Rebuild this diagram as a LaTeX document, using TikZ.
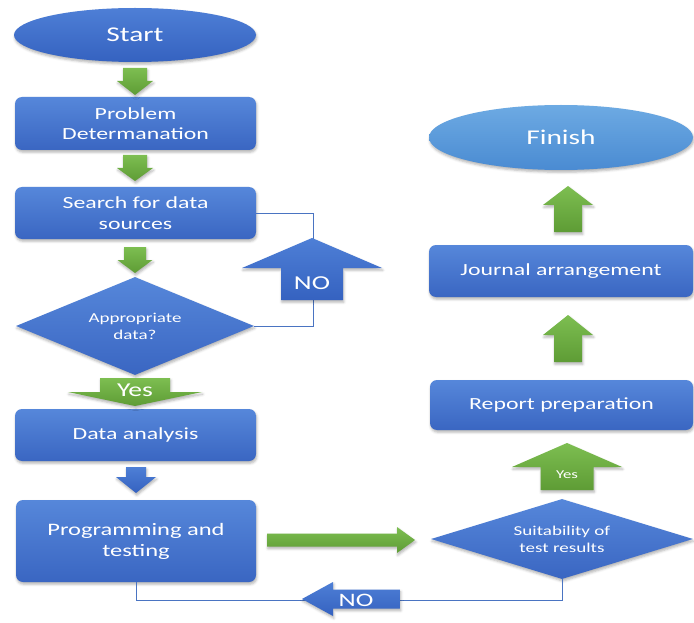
\documentclass[tikz,border=0pt]{standalone}
\usepackage{fontspec}
\setmainfont{Carlito}[FakeStretch=1.4]
\usetikzlibrary{shapes.geometric,shadows.blur}

\definecolor{boxtop}{HTML}{5687DA}
\definecolor{boxbot}{HTML}{3A66C2}
\definecolor{termtop}{HTML}{4E7FD6}
\definecolor{termbot}{HTML}{3562C0}
\definecolor{endtop}{HTML}{6DAAE3}
\definecolor{endbot}{HTML}{4A8BD2}
\definecolor{greentop}{HTML}{7DBE51}
\definecolor{greenbot}{HTML}{5E9C35}
\definecolor{linkblue}{HTML}{4A74C2}

\tikzset{
  softshadow/.style={blur shadow={shadow xshift=0.8pt, shadow yshift=-2.2pt,
      shadow blur radius=2.5pt, shadow opacity=30}},
  basebox/.style={draw=none, text=white, align=center, inner sep=0pt, softshadow},
  procbox/.style={basebox, rectangle, rounded corners=7pt,
      top color=boxtop, bottom color=boxbot,
      minimum width=241pt, minimum height=52pt,
      font=\fontsize{17}{20.5}\selectfont},
  terminal/.style={basebox, ellipse, top color=termtop, bottom color=termbot,
      font=\fontsize{21}{25}\selectfont},
  decision/.style={basebox, diamond, top color=boxtop, bottom color=boxbot,
      font=\fontsize{13.6}{17}\selectfont},
  link/.style={draw=linkblue, line width=0.9pt},
  greenarrow/.style={top color=greentop, bottom color=greenbot, draw=none, softshadow},
  bluearrow/.style={top color=termtop, bottom color=termbot, draw=none, softshadow},
  arrowlabel/.style={text=white, inner sep=0pt},
  % block arrows: tip at the pic origin; args shaft half width / head half width / length / head length / style
  pics/arrowdown/.style args={#1/#2/#3/#4/#5}{code={
    \path[#5] (0,0) -- (-#2,-#4) -- (-#1,-#4) -- (-#1,-#3) -- (#1,-#3) -- (#1,-#4) -- (#2,-#4) -- cycle;}},
  pics/arrowup/.style args={#1/#2/#3/#4/#5}{code={
    \path[#5] (0,0) -- (-#2,#4) -- (-#1,#4) -- (-#1,#3) -- (#1,#3) -- (#1,#4) -- (#2,#4) -- cycle;}},
  pics/arrowright/.style args={#1/#2/#3/#4/#5}{code={
    \path[#5] (0,0) -- (-#4,-#2) -- (-#4,-#1) -- (-#3,-#1) -- (-#3,#1) -- (-#4,#1) -- (-#4,#2) -- cycle;}},
  pics/arrowleft/.style args={#1/#2/#3/#4/#5}{code={
    \path[#5] (0,0) -- (#4,-#2) -- (#4,-#1) -- (#3,-#1) -- (#3,#1) -- (#4,#1) -- (#4,#2) -- cycle;}},
}

\begin{document}
\begin{tikzpicture}[x=1pt,y=-1pt]
\useasboundingbox (0,0) rectangle (694,623);

% left column
\node[terminal, minimum width=242pt, minimum height=54pt] (start) at (135,35) {Start};
\node[procbox, minimum height=53pt] (prob) at (135.5,123.5) {Problem\\Determanation};
\node[procbox] (search) at (135.5,213) {Search for data\\sources};
\node[decision, aspect=2.5, minimum width=238pt, minimum height=98pt] (check) at (135,326) {Appropriate\\data?};
\node[procbox] (analysis) at (135.5,435) {Data analysis};
\node[procbox, minimum width=240pt, minimum height=82pt, font=\fontsize{17.5}{21}\selectfont] (prog) at (136,541) {Programming and\\testing};

% right column
\node[decision, aspect=3.2, minimum width=262pt, minimum height=80pt] (suit) at (562,539) {Suitability of\\test results};
\node[procbox, minimum width=263pt, minimum height=50pt] (report) at (561.5,405) {Report preparation};
\node[procbox, minimum width=264pt, minimum height=52pt] (journal) at (561,271) {Journal arrangement};
\node[terminal, top color=endtop, bottom color=endbot, minimum width=264pt, minimum height=65pt] (finish) at (561,137.5) {Finish};

% thin loop-back lines (the block arrows are drawn over them)
\coordinate (loopA) at (313,213);
\coordinate (loopB) at (136,600);
\draw[link] (search.east) -- (loopA) |- (check.east);
\draw[link] (prog.south) -- (loopB) -| (suit.south);

% block arrows, left column
\pic at (135,95) {arrowdown={12/18/27/14/greenarrow}};
\pic at (135,181) {arrowdown={12/18/26/13/greenarrow}};
\pic at (135,273) {arrowdown={11/17.5/26/13/greenarrow}};
\pic at (135,406) {arrowdown={35/67/28/14/greenarrow}};
\node[arrowlabel, font=\fontsize{19.7}{22}\selectfont] (yesdown) at (135,390) {Yes};
\pic at (136,493) {arrowdown={10/20/26/16/bluearrow}};

% "NO" arrow on the first loop
\pic at (312,238) {arrowup={31/70/62/30/bluearrow}};
\node[arrowlabel, font=\fontsize{19.7}{22}\selectfont] (noup) at (312,283) {NO};

% arrow into the test decision and the "NO" arrow on the second loop
\pic at (415,540) {arrowright={6.5/13/148/18/greenarrow}};
\pic at (302,599) {arrowleft={9.5/17/98/31/bluearrow}};
\node[arrowlabel, font=\fontsize{19}{22}\selectfont] (noleft) at (356,600) {NO};

% block arrows, right column
\pic at (567,443) {arrowup={26.5/55/47/24/greenarrow}};
\node[arrowlabel, font=\fontsize{12}{14}\selectfont] (yesup) at (567,475) {Yes};
\pic at (568,315) {arrowup={14/25/47/20/greenarrow}};
\pic at (568,186) {arrowup={14/25/46/19/greenarrow}};
\end{tikzpicture}
\end{document}
